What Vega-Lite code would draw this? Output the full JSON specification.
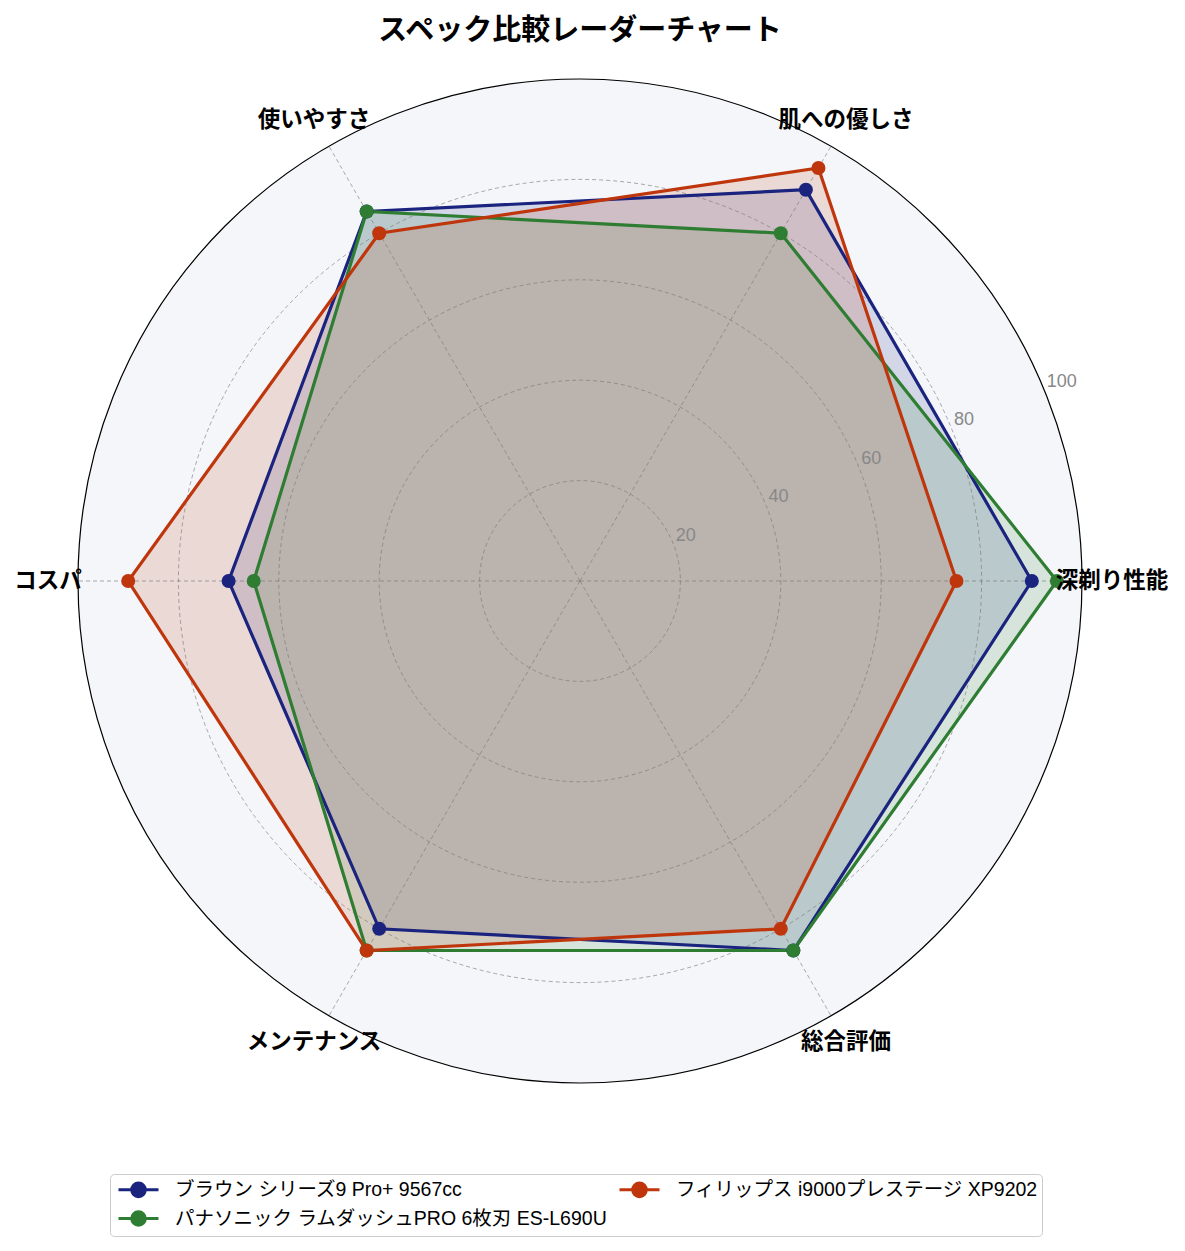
{
  "$schema": "https://vega.github.io/schema/vega-lite/v6.json",
  "width": 1160,
  "height": 1162,
  "autosize": {"type": "none"},
  "padding": {"left": 0, "top": 0, "right": 25, "bottom": 89},
  "background": "white",
  "title": {"text": "スペック比較レーダーチャート", "fontSize": 29, "fontWeight": "bold", "font": "Noto Sans CJK JP", "color": "#000000", "anchor": "middle", "offset": -46},
  "config": {"view": {"stroke": null}, "font": "Noto Sans CJK JP"},
  "datasets": {
    "scores": [
      {"s": "ブラウン シリーズ9 Pro+ 9567cc", "axis": "深剃り性能", "i": 0, "v": 90},
      {"s": "ブラウン シリーズ9 Pro+ 9567cc", "axis": "肌への優しさ", "i": 1, "v": 90},
      {"s": "ブラウン シリーズ9 Pro+ 9567cc", "axis": "使いやすさ", "i": 2, "v": 85},
      {"s": "ブラウン シリーズ9 Pro+ 9567cc", "axis": "コスパ", "i": 3, "v": 70},
      {"s": "ブラウン シリーズ9 Pro+ 9567cc", "axis": "メンテナンス", "i": 4, "v": 80},
      {"s": "ブラウン シリーズ9 Pro+ 9567cc", "axis": "総合評価", "i": 5, "v": 85},
      {"s": "パナソニック ラムダッシュPRO 6枚刃 ES-L690U", "axis": "深剃り性能", "i": 0, "v": 95},
      {"s": "パナソニック ラムダッシュPRO 6枚刃 ES-L690U", "axis": "肌への優しさ", "i": 1, "v": 80},
      {"s": "パナソニック ラムダッシュPRO 6枚刃 ES-L690U", "axis": "使いやすさ", "i": 2, "v": 85},
      {"s": "パナソニック ラムダッシュPRO 6枚刃 ES-L690U", "axis": "コスパ", "i": 3, "v": 65},
      {"s": "パナソニック ラムダッシュPRO 6枚刃 ES-L690U", "axis": "メンテナンス", "i": 4, "v": 85},
      {"s": "パナソニック ラムダッシュPRO 6枚刃 ES-L690U", "axis": "総合評価", "i": 5, "v": 85},
      {"s": "フィリップス i9000プレステージ XP9202", "axis": "深剃り性能", "i": 0, "v": 75},
      {"s": "フィリップス i9000プレステージ XP9202", "axis": "肌への優しさ", "i": 1, "v": 95},
      {"s": "フィリップス i9000プレステージ XP9202", "axis": "使いやすさ", "i": 2, "v": 80},
      {"s": "フィリップス i9000プレステージ XP9202", "axis": "コスパ", "i": 3, "v": 90},
      {"s": "フィリップス i9000プレステージ XP9202", "axis": "メンテナンス", "i": 4, "v": 85},
      {"s": "フィリップス i9000プレステージ XP9202", "axis": "総合評価", "i": 5, "v": 80}
    ],
    "axes": [
      {"axis": "深剃り性能", "i": 0},
      {"axis": "肌への優しさ", "i": 1},
      {"axis": "使いやすさ", "i": 2},
      {"axis": "コスパ", "i": 3},
      {"axis": "メンテナンス", "i": 4},
      {"axis": "総合評価", "i": 5}
    ],
    "rings": [{"r": 20}, {"r": 40}, {"r": 60}, {"r": 80}, {"r": 100}]
  },
  "layer": [
    {
      "data": {"name": "rings"},
      "transform": [{"filter": "datum.r == 100"}, {"calculate": "0", "as": "cx"}],
      "mark": {"type": "point", "shape": "circle", "filled": true, "fill": "#f4f6fa", "fillOpacity": 1, "strokeOpacity": 0},
      "encoding": {
        "x": {"field": "cx", "type": "quantitative", "scale": {"domain": [-115.54, 115.54], "nice": false, "zero": false}, "axis": null},
        "y": {"field": "cx", "type": "quantitative", "scale": {"domain": [-115.74, 115.74], "nice": false, "zero": false}, "axis": null},
        "size": {"field": "r", "type": "quantitative", "legend": null, "scale": {"type": "pow", "exponent": 2, "domain": [0, 100], "range": [0, 1008016], "zero": true}}
      }
    },
    {
      "data": {"name": "scores"},
      "transform": [
        {"filter": "datum.s == 'ブラウン シリーズ9 Pro+ 9567cc'"},
        {"calculate": "datum.v * cos(datum.i * PI / 3)", "as": "x"},
        {"calculate": "datum.v * sin(datum.i * PI / 3)", "as": "y"}
      ],
      "mark": {"type": "line", "interpolate": "linear-closed", "fill": "#1a237e", "fillOpacity": 0.15, "strokeOpacity": 0},
      "encoding": {
        "x": {"field": "x", "type": "quantitative"},
        "y": {"field": "y", "type": "quantitative"},
        "order": {"field": "i", "type": "quantitative"}
      }
    },
    {
      "data": {"name": "scores"},
      "transform": [
        {"filter": "datum.s == 'パナソニック ラムダッシュPRO 6枚刃 ES-L690U'"},
        {"calculate": "datum.v * cos(datum.i * PI / 3)", "as": "x"},
        {"calculate": "datum.v * sin(datum.i * PI / 3)", "as": "y"}
      ],
      "mark": {"type": "line", "interpolate": "linear-closed", "fill": "#2e7d32", "fillOpacity": 0.15, "strokeOpacity": 0},
      "encoding": {
        "x": {"field": "x", "type": "quantitative"},
        "y": {"field": "y", "type": "quantitative"},
        "order": {"field": "i", "type": "quantitative"}
      }
    },
    {
      "data": {"name": "scores"},
      "transform": [
        {"filter": "datum.s == 'フィリップス i9000プレステージ XP9202'"},
        {"calculate": "datum.v * cos(datum.i * PI / 3)", "as": "x"},
        {"calculate": "datum.v * sin(datum.i * PI / 3)", "as": "y"}
      ],
      "mark": {"type": "line", "interpolate": "linear-closed", "fill": "#bf360c", "fillOpacity": 0.15, "strokeOpacity": 0},
      "encoding": {
        "x": {"field": "x", "type": "quantitative"},
        "y": {"field": "y", "type": "quantitative"},
        "order": {"field": "i", "type": "quantitative"}
      }
    },
    {
      "data": {"name": "rings"},
      "transform": [{"filter": "datum.r < 100"}, {"calculate": "0", "as": "cx"}],
      "mark": {"type": "point", "shape": "circle", "filled": false, "fillOpacity": 0, "stroke": "#777777", "strokeOpacity": 0.7, "strokeWidth": 0.9, "strokeDash": [4, 3]},
      "encoding": {
        "x": {"field": "cx", "type": "quantitative"},
        "y": {"field": "cx", "type": "quantitative"},
        "size": {"field": "r", "type": "quantitative", "legend": null}
      }
    },
    {
      "data": {"name": "axes"},
      "transform": [
        {"calculate": "0", "as": "cx"},
        {"calculate": "100 * cos(datum.i * PI / 3)", "as": "ex"},
        {"calculate": "100 * sin(datum.i * PI / 3)", "as": "ey"}
      ],
      "mark": {"type": "rule", "stroke": "#777777", "strokeOpacity": 0.7, "strokeWidth": 0.9, "strokeDash": [4, 3]},
      "encoding": {
        "x": {"field": "cx", "type": "quantitative"},
        "y": {"field": "cx", "type": "quantitative"},
        "x2": {"field": "ex"},
        "y2": {"field": "ey"}
      }
    },
    {
      "data": {"name": "rings"},
      "transform": [{"filter": "datum.r == 100"}, {"calculate": "0", "as": "cx"}],
      "mark": {"type": "point", "shape": "circle", "filled": false, "fillOpacity": 0, "stroke": "#000000", "strokeOpacity": 1, "strokeWidth": 1.2, "opacity": 1},
      "encoding": {
        "x": {"field": "cx", "type": "quantitative"},
        "y": {"field": "cx", "type": "quantitative"},
        "size": {"field": "r", "type": "quantitative", "legend": null}
      }
    },
    {
      "data": {"name": "scores"},
      "transform": [
        {"calculate": "datum.v * cos(datum.i * PI / 3)", "as": "x"},
        {"calculate": "datum.v * sin(datum.i * PI / 3)", "as": "y"}
      ],
      "mark": {"type": "line", "interpolate": "linear-closed", "strokeWidth": 3.2},
      "encoding": {
        "x": {"field": "x", "type": "quantitative"},
        "y": {"field": "y", "type": "quantitative"},
        "order": {"field": "i", "type": "quantitative"},
        "color": {
          "field": "s", "type": "nominal",
          "scale": {"domain": ["ブラウン シリーズ9 Pro+ 9567cc", "パナソニック ラムダッシュPRO 6枚刃 ES-L690U", "フィリップス i9000プレステージ XP9202"], "range": ["#1a237e", "#2e7d32", "#bf360c"]},
          "legend": {
            "orient": "none", "legendX": 110, "legendY": 1174, "columns": 2, "title": null,
            "values": ["ブラウン シリーズ9 Pro+ 9567cc", "パナソニック ラムダッシュPRO 6枚刃 ES-L690U", "フィリップス i9000プレステージ XP9202"],
            "symbolType": "M-2,0L2,0M-0.68,0A0.68,0.68,0,1,1,0.68,0A0.68,0.68,0,1,1,-0.68,0Z",
            "symbolSize": 400, "symbolStrokeWidth": 3, "symbolOffset": 13,
            "labelFontSize": 19.5, "labelFont": "Liberation Sans, Noto Sans CJK JP", "labelColor": "#000000", "labelOffset": 25, "labelLimit": 700,
            "columnPadding": 5, "rowPadding": 2, "padding": 4,
            "strokeColor": "#cccccc", "cornerRadius": 4, "fillColor": "#ffffff",
            "encode": {"symbols": {"update": {"fill": {"scale": "color", "field": "value"}, "stroke": {"scale": "color", "field": "value"}, "strokeWidth": {"value": 3}}}}
          }
        }
      }
    },
    {
      "data": {"name": "scores"},
      "transform": [
        {"calculate": "datum.v * cos(datum.i * PI / 3)", "as": "x"},
        {"calculate": "datum.v * sin(datum.i * PI / 3)", "as": "y"}
      ],
      "mark": {"type": "point", "shape": "circle", "filled": true, "opacity": 1, "size": 196},
      "encoding": {
        "x": {"field": "x", "type": "quantitative"},
        "y": {"field": "y", "type": "quantitative"},
        "color": {"field": "s", "type": "nominal"}
      }
    },
    {
      "data": {"name": "rings"},
      "transform": [
        {"calculate": "datum.r * cos(PI / 8)", "as": "tx"},
        {"calculate": "datum.r * sin(PI / 8)", "as": "ty"}
      ],
      "mark": {"type": "text", "align": "left", "baseline": "alphabetic", "dx": 3, "dy": -2, "fontSize": 18, "color": "#888888", "font": "Liberation Sans, Noto Sans CJK JP"},
      "encoding": {
        "x": {"field": "tx", "type": "quantitative"},
        "y": {"field": "ty", "type": "quantitative"},
        "text": {"field": "r", "type": "nominal"}
      }
    },
    {
      "data": {"name": "axes"},
      "transform": [
        {"calculate": "106 * cos(datum.i * PI / 3)", "as": "lx"},
        {"calculate": "106 * sin(datum.i * PI / 3)", "as": "ly"}
      ],
      "mark": {"type": "text", "align": "center", "baseline": "middle", "fontSize": 22.5, "fontWeight": "bold", "color": "#000000", "font": "Noto Sans CJK JP"},
      "encoding": {
        "x": {"field": "lx", "type": "quantitative"},
        "y": {"field": "ly", "type": "quantitative"},
        "text": {"field": "axis", "type": "nominal"}
      }
    }
  ]
}
